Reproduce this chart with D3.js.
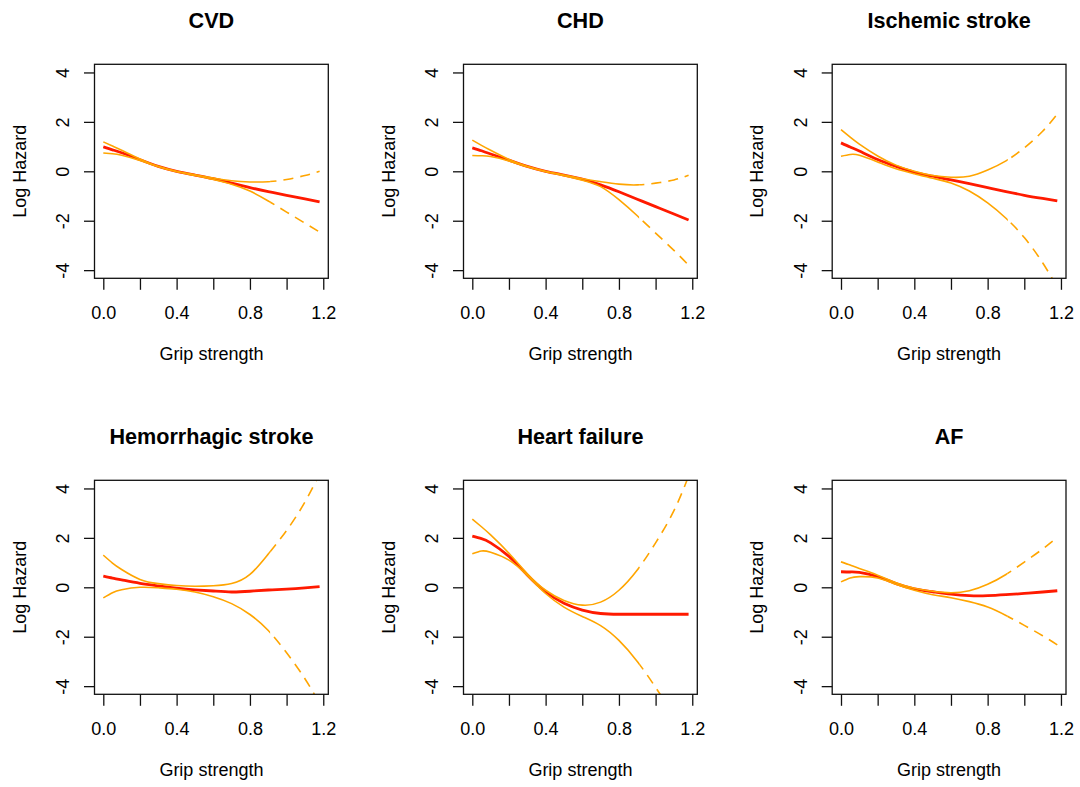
<!DOCTYPE html>
<html>
<head>
<meta charset="utf-8">
<script src="https://cdn.jsdelivr.net/npm/d3@7"></script>
<style>
  body { margin: 0; background: #fff; }
  svg { display: block; font-family: "Liberation Sans", Arial, sans-serif; }
</style>
</head>
<body>
<div id="grafico"></div>
<script>
// valores
const titulos = ["CVD", "CHD", "Ischemic stroke", "Hemorrhagic stroke", "Heart failure", "AF"];
const gripX = [0, 0.05, 0.1, 0.2, 0.3, 0.4, 0.5, 0.6, 0.7, 0.8, 0.9, 1.0, 1.1, 1.18];
const xTicks = [0, 0.2, 0.4, 0.6, 0.8, 1.0, 1.2];
const xLabels = [0, 0.4, 0.8, 1.2];
const yTicks = [-4, -2, 0, 2, 4];
const limiteTracejado = 0.91;

const cvdFit = [0.99, 0.87, 0.75, 0.47, 0.2, 0, -0.15, -0.3, -0.48, -0.66, -0.82, -0.97, -1.12, -1.24];
const cvdSup = [1.19, 1.02, 0.85, 0.5, 0.2, 0.0, -0.14, -0.27, -0.38, -0.43, -0.42, -0.33, -0.17, 0.0];
const cvdInf = [0.74, 0.71, 0.65, 0.44, 0.18, -0.02, -0.17, -0.33, -0.52, -0.8, -1.2, -1.65, -2.1, -2.46];

const chdFit = [0.95, 0.83, 0.7, 0.45, 0.2, 0, -0.15, -0.32, -0.55, -0.83, -1.13, -1.43, -1.73, -1.97];
const chdSup = [1.26, 1.05, 0.85, 0.48, 0.2, 0.0, -0.15, -0.3, -0.42, -0.52, -0.55, -0.48, -0.35, -0.16];
const chdInf = [0.64, 0.63, 0.6, 0.42, 0.18, -0.02, -0.18, -0.36, -0.62, -1.15, -1.8, -2.5, -3.2, -3.8];

const isqFit = [1.15, 0.98, 0.82, 0.48, 0.2, -0.04, -0.2, -0.35, -0.5, -0.66, -0.82, -0.97, -1.1, -1.2];
const isqSup = [1.69, 1.38, 1.1, 0.62, 0.25, 0.0, -0.17, -0.24, -0.2, 0.05, 0.42, 0.95, 1.62, 2.32];
const isqInf = [0.61, 0.68, 0.65, 0.38, 0.1, -0.1, -0.28, -0.47, -0.8, -1.28, -1.9, -2.68, -3.7, -4.7];

const hemFit = [0.45, 0.37, 0.3, 0.16, 0.06, -0.03, -0.1, -0.15, -0.19, -0.16, -0.11, -0.07, -0.02, 0.03];
const hemSup = [1.3, 0.98, 0.72, 0.32, 0.15, 0.07, 0.04, 0.06, 0.15, 0.52, 1.35, 2.3, 3.45, 4.6];
const hemInf = [-0.43, -0.22, -0.1, 0.0, -0.02, -0.08, -0.19, -0.38, -0.66, -1.1, -1.75, -2.65, -3.7, -4.7];

const hfFit = [2.07, 1.97, 1.8, 1.25, 0.5, -0.18, -0.65, -0.92, -1.06, -1.09, -1.09, -1.09, -1.09, -1.09];
const hfSup = [2.76, 2.45, 2.12, 1.38, 0.55, -0.12, -0.53, -0.72, -0.6, -0.12, 0.7, 1.8, 3.1, 4.5];
const hfInf = [1.36, 1.47, 1.42, 1.1, 0.48, -0.25, -0.8, -1.18, -1.55, -2.15, -3.0, -4.05, -5.2, -6.2];

const afFit = [0.63, 0.62, 0.6, 0.43, 0.15, -0.06, -0.18, -0.28, -0.34, -0.34, -0.3, -0.25, -0.19, -0.14];
const afSup = [1.03, 0.9, 0.76, 0.49, 0.18, -0.04, -0.16, -0.22, -0.14, 0.12, 0.52, 1.02, 1.55, 2.02];
const afInf = [0.22, 0.38, 0.43, 0.38, 0.12, -0.12, -0.3, -0.42, -0.58, -0.8, -1.14, -1.54, -1.96, -2.33];

const paineis = [
  [cvdFit, cvdSup, cvdInf],
  [chdFit, chdSup, chdInf],
  [isqFit, isqSup, isqInf],
  [hemFit, hemSup, hemInf],
  [hfFit, hfSup, hfInf],
  [afFit, afSup, afInf]
];

const largura = 1080;
const altura = 787;
const colunas = [94.5, 463.5, 832.2];
const linhas = [64.3, 480.3];
const boxW = 233.8;
const boxH = 214;

const svg = d3.select("#grafico").append("svg")
  .attr("width", largura)
  .attr("height", altura);

svg.append("rect")
  .attr("width", largura)
  .attr("height", altura)
  .attr("fill", "#fff");

function desenharPainel(i) {
  const esq = colunas[i % 3];
  const topo = linhas[Math.floor(i / 3)];
  const [fit, sup, inf] = paineis[i];

  const x = d3.scaleLinear().domain([-0.048, 1.2275]).range([esq, esq + boxW]);
  const y = d3.scaleLinear().domain([-4.33, 4.33]).range([topo + boxH, topo]);

  const g = svg.append("g");
  const defs = g.append("defs");

  defs.append("clipPath").attr("id", `solido${i}`)
    .append("rect")
    .attr("x", esq).attr("y", topo)
    .attr("width", x(limiteTracejado) - esq).attr("height", boxH);

  defs.append("clipPath").attr("id", `tracejado${i}`)
    .append("rect")
    .attr("x", x(limiteTracejado)).attr("y", topo)
    .attr("width", esq + boxW - x(limiteTracejado)).attr("height", boxH);

  defs.append("clipPath").attr("id", `caixa${i}`)
    .append("rect")
    .attr("x", esq).attr("y", topo)
    .attr("width", boxW).attr("height", boxH);

  const linha = d3.line()
    .x((d, k) => x(gripX[k]))
    .y(d => y(d))
    .curve(d3.curveNatural);

  // curva ajustada
  g.append("path")
    .attr("d", linha(fit))
    .attr("clip-path", `url(#caixa${i})`)
    .attr("fill", "none")
    .attr("stroke", "#ff1a00")
    .attr("stroke-width", 2.8);

  // intervalos de confiança
  [sup, inf].forEach(serie => {
    g.append("path")
      .attr("d", linha(serie))
      .attr("clip-path", `url(#solido${i})`)
      .attr("fill", "none")
      .attr("stroke", "orange")
      .attr("stroke-width", 1.6);

    g.append("path")
      .attr("d", linha(serie))
      .attr("clip-path", `url(#tracejado${i})`)
      .attr("fill", "none")
      .attr("stroke", "orange")
      .attr("stroke-width", 1.6)
      .attr("stroke-dasharray", "10,7");
  });

  g.append("rect")
    .attr("x", esq).attr("y", topo)
    .attr("width", boxW).attr("height", boxH)
    .attr("fill", "none")
    .attr("stroke", "#111")
    .attr("stroke-width", 1.3);

  const eixoX = d3.axisBottom(x)
    .tickValues(xTicks)
    .tickSize(11.5)
    .tickFormat(d => xLabels.some(v => Math.abs(v - d) < 1e-9) ? d3.format(".1f")(d) : "");

  const gx = g.append("g")
    .attr("transform", `translate(0,${topo + boxH})`)
    .call(eixoX);
  gx.select(".domain").remove();
  gx.selectAll("line").attr("stroke", "#111").attr("stroke-width", 1.3);
  gx.selectAll("text")
    .attr("y", 41).attr("dy", null)
    .attr("fill", "#000")
    .style("font-size", "18px")
    .style("font-family", "'Liberation Sans', Arial, sans-serif");

  const eixoY = d3.axisLeft(y)
    .tickValues(yTicks)
    .tickSize(10.5)
    .tickFormat(d => String(d));

  const gy = g.append("g")
    .attr("transform", `translate(${esq},0)`)
    .call(eixoY);
  gy.select(".domain").remove();
  gy.selectAll("line").attr("stroke", "#111").attr("stroke-width", 1.3);
  gy.selectAll("text")
    .attr("x", null).attr("dy", null)
    .attr("transform", "translate(-25.5,0) rotate(-90)")
    .attr("text-anchor", "middle")
    .attr("fill", "#000")
    .style("font-size", "18px")
    .style("font-family", "'Liberation Sans', Arial, sans-serif");

  g.append("text")
    .attr("x", esq + boxW / 2)
    .attr("y", topo - 36)
    .attr("text-anchor", "middle")
    .style("font-size", "21.6px")
    .style("font-weight", "bold")
    .text(titulos[i]);

  g.append("text")
    .attr("x", esq + boxW / 2)
    .attr("y", topo + boxH + 82)
    .attr("text-anchor", "middle")
    .style("font-size", "18px")
    .text("Grip strength");

  g.append("text")
    .attr("transform", `translate(${esq - 69},${y(0)}) rotate(-90)`)
    .attr("text-anchor", "middle")
    .style("font-size", "18px")
    .text("Log Hazard");
}

titulos.forEach((t, i) => desenharPainel(i));
</script>
</body>
</html>
